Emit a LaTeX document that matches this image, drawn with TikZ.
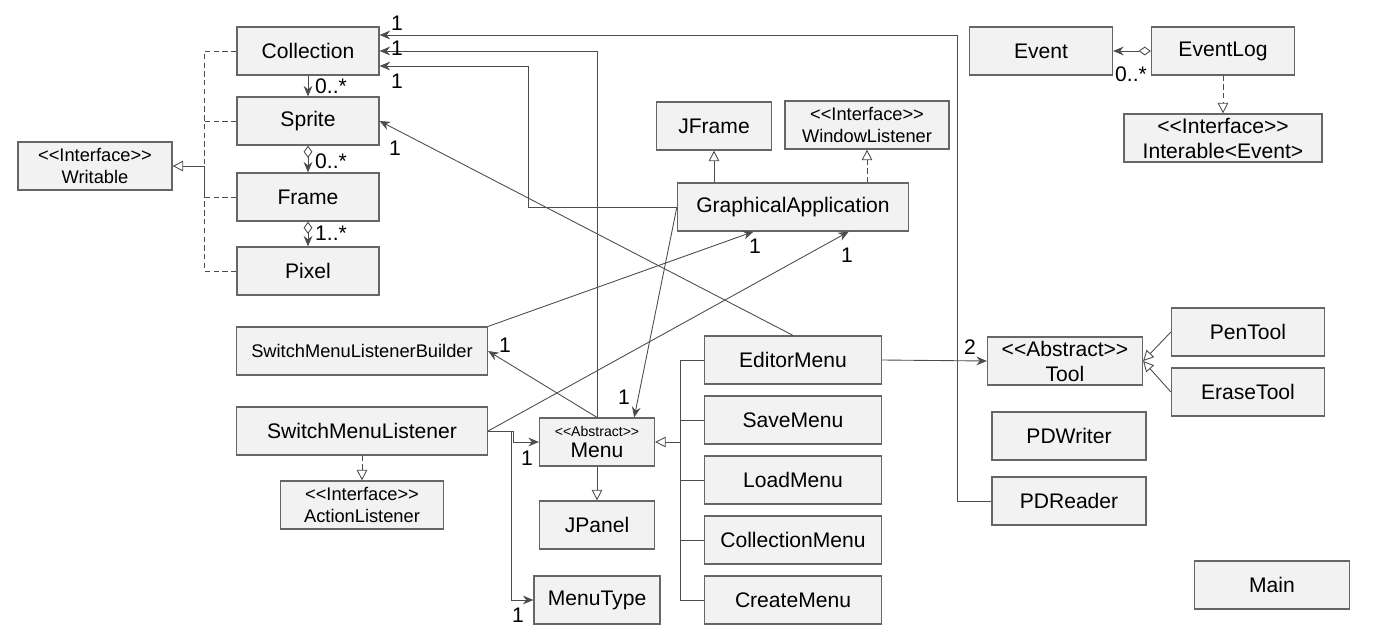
\documentclass[tikz,border=0pt]{standalone}
\usepackage{fontspec}
\setmainfont{Liberation Sans}
\usetikzlibrary{arrows.meta,calc}
\newcommand{\stereo}[1]{<{}<#1>{}>}

\begin{document}
\begin{tikzpicture}[x=0.02cm,y=-0.02cm,
  box/.style={draw=black!60,fill=black!5,line width=0.7pt,minimum width=#1*0.02cm,
    minimum height=0.96cm,inner sep=0pt,align=center,font=\fontsize{12}{14.2}\selectfont},
  small/.style={font=\fontsize{10.4}{12.5}\selectfont},
  mult/.style={inner sep=0pt,font=\fontsize{12}{14}\selectfont},
  line/.style={draw=black!70,line width=0.5pt},
  assoc/.style={line,-{Stealth[length=6pt,width=5pt,inset=2pt]}},
  aggr/.style={line,{Diamond[open,length=7pt,width=5pt]}-{Stealth[length=6pt,width=5pt,inset=2pt]}},
  gener/.style={line,-{Triangle[open,length=6pt,width=6pt,fill=white]}},
  realize/.style={gener,dash pattern=on 3pt off 2pt},
  dashline/.style={line,dash pattern=on 3pt off 2pt}]
\useasboundingbox (0,0) rectangle (1382,636);

\node[box=142] (coll) at (308,51) {Collection};
\node[box=142] (spr) at (308,121) {Sprite};
\node[box=142] (frm) at (308,197) {Frame};
\node[box=142] (pix) at (308,271) {Pixel};
\node[box=154,small] (wrt) at (95,166) {\stereo{Interface}\\Writable};

\node[box=115] (jfr) at (714,126) {JFrame};
\node[box=164,small] (wl) at (867,125) {\stereo{Interface}\\WindowListener};
\node[box=231] (ga) at (793,207) {GraphicalApplication};

\node[box=143] (evt) at (1041,51) {Event};
\node[box=143] (elog) at (1223,51) {EventLog};
\node[box=198] (iter) at (1223,138) {\stereo{Interface}\\Interable<Event>};

\node[box=251,small] (smlb) at (362,351) {SwitchMenuListenerBuilder};
\node[box=251] (sml) at (362,431) {SwitchMenuListener};
\node[box=163,small] (al) at (362,505) {\stereo{Interface}\\ActionListener};
\node[box=115,font=\fontsize{12}{12.5}\selectfont] (menu) at (597,442) {{\fontsize{8}{9}\selectfont\stereo{Abstract}}\\Menu};
\node[box=115] (jpan) at (597,525) {JPanel};
\node[box=126] (mtype) at (597,600) {MenuType};

\node[box=177] (edm) at (793,360) {EditorMenu};
\node[box=177] (svm) at (793,420) {SaveMenu};
\node[box=177] (ldm) at (793,480) {LoadMenu};
\node[box=177] (clm) at (793,540) {CollectionMenu};
\node[box=177] (crm) at (793,600) {CreateMenu};

\node[box=155] (tool) at (1065,361) {\stereo{Abstract}\\Tool};
\node[box=153] (pen) at (1248,332) {PenTool};
\node[box=153] (ers) at (1248,392) {EraseTool};
\node[box=154] (pdw) at (1069,436) {PDWriter};
\node[box=154] (pdr) at (1069,501) {PDReader};
\node[box=155] (main) at (1272,585) {Main};

\coordinate (wbus) at (204,166);
\foreach \c in {coll,spr,frm,pix}
  \draw[dashline] (\c.west) -| (wbus);
\draw[gener] (wbus) -- (wrt.east);

\draw[assoc] (coll.south) -- (spr.north);
\draw[aggr] (spr.south) -- (frm.north);
\draw[aggr] (frm.south) -- (pix.north);

\draw[gener] (ga.north -| jfr) -- (jfr.south);
\draw[realize] (ga.north -| wl) -- (wl.south);

\draw[aggr] (elog.west) -- (evt.east);
\draw[realize] (elog.south) -- (iter.north);

\draw[realize] (sml.south) -- (al.north);
\draw[gener] (menu.south) -- (jpan.north);
\draw[assoc] (sml.east) -- ++(25,0) |- (menu.west);
\draw[assoc] (sml.east) -- ++(23,0) |- (mtype.west);

\coordinate (mbus) at (680,442);
\foreach \m in {edm,svm,ldm,clm,crm}
  \draw[line] (\m.west) -| (mbus);
\draw[gener] (mbus) -- (menu.east);

\draw[assoc] (edm.east) -- (tool.west);
\draw[gener] (pen.west) -- (tool.east);
\draw[gener] (ers.west) -- (tool.east);

\coordinate (pdrBend) at (957,35);
\draw[assoc] (pdr.west) -| (pdrBend) -- (pdrBend -| coll.east);
\draw[assoc] (menu.north) |- (coll.east);
\coordinate (gaBend) at (528,66);
\draw[assoc] (ga.west) -| (gaBend) -- (gaBend -| coll.east);
\draw[assoc] (edm.north) -- (spr.east);
\draw[assoc] (smlb.north east) -- ($(ga.south west)!0.33!(ga.south east)$);
\draw[assoc] (sml.east) -- ($(ga.south west)!0.74!(ga.south east)$);
\draw[assoc] (menu.north) -- (smlb.east);
\draw[assoc] (ga.west) -- ($(menu.north west)!0.82!(menu.north east)$);

\node[mult] (m1) at (397,23) {1};
\node[mult] (m2) at (397,48) {1};
\node[mult] (m3) at (397,81) {1};
\node[mult] (m4) at (395,148) {1};
\node[mult] (m5) at (331,86) {0..*};
\node[mult] (m6) at (331,161) {0..*};
\node[mult] (m7) at (331,233) {1..*};
\node[mult] (m8) at (755,246) {1};
\node[mult] (m9) at (847,255) {1};
\node[mult] (m10) at (1131,74) {0..*};
\node[mult] (m11) at (505,345) {1};
\node[mult] (m12) at (624,397) {1};
\node[mult] (m13) at (527,458) {1};
\node[mult] (m14) at (518,615) {1};
\node[mult] (m15) at (970,347) {2};
\end{tikzpicture}
\end{document}
